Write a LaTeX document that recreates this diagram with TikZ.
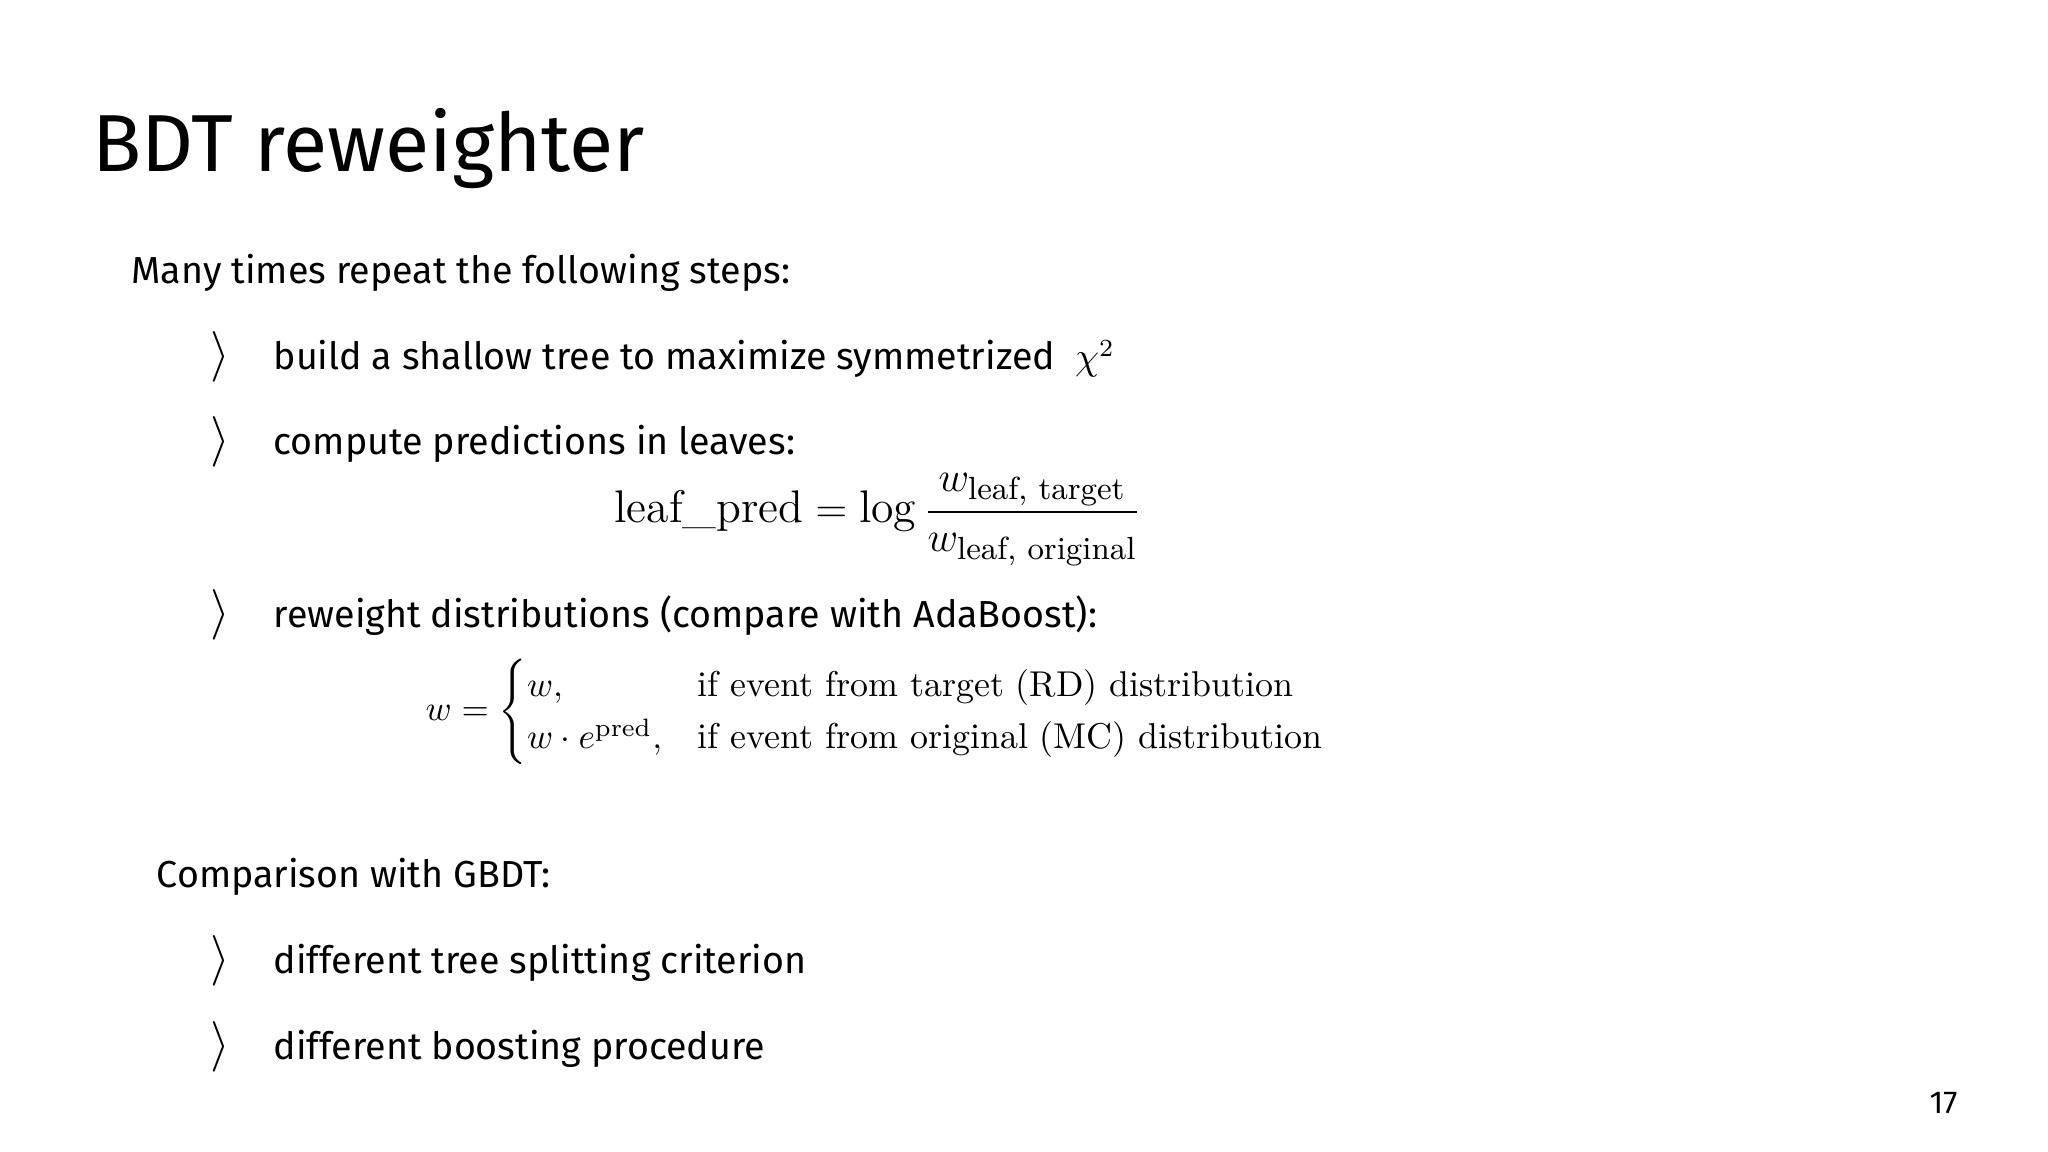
\documentclass[tikz,border=0pt]{standalone}
\usepackage{amsmath}
\usepackage{fontspec}
\setmainfont{Fira Sans}
\newfontfamily\lmr{Latin Modern Roman}
\newcommand{\lmt}[1]{\text{\lmr #1}}
\begin{document}
\begin{tikzpicture}[x=0.01cm,y=-0.01cm,
  txt/.style={anchor=base west,inner sep=0,font=\fontsize{10.7}{13}\selectfont},
  bul/.style={anchor=base west,inner sep=0,font=\fontsize{14}{15}\selectfont}]
\useasboundingbox[fill=white] (0,0) rectangle (2048,1152);
\node[anchor=base west,inner sep=0,font=\fontsize{23}{28}\selectfont] (title) at (92,172) {BDT reweighter};
\node[txt] (many) at (131,284) {Many times repeat the following steps:};
\node[bul] (b1) at (210,370) {$\rangle$};
\node[txt] (t1) at (273,370) {build a shallow tree to maximize symmetrized \ $\chi^2$};
\node[bul] (b2) at (210,455) {$\rangle$};
\node[txt] (t2) at (273,455) {compute predictions in leaves:};
\node[inner sep=0,font=\fontsize{13}{15}\selectfont] (f1) at (878,520) {$\lmt{leaf\_pred} = \lmt{log}\,\dfrac{w_{\lmt{leaf, target}}}{w_{\lmt{leaf, original}}}$};
\node[bul] (b3) at (210,627) {$\rangle$};
\node[txt] (t3) at (273,627) {reweight distributions (compare with AdaBoost):};
\node[anchor=west,inner sep=0,font=\fontsize{10.2}{12.5}\selectfont] (f2) at (425,712) {$w=\begin{cases} w, & \lmt{if event from target (RD) distribution}\\ w\cdot e^{\lmt{pred}}, & \lmt{if event from original (MC) distribution}\end{cases}$};
\node[txt] (comp) at (156,887) {Comparison with GBDT:};
\node[bul] (b4) at (210,973) {$\rangle$};
\node[txt] (t4) at (273,973) {different tree splitting criterion};
\node[bul] (b5) at (210,1059) {$\rangle$};
\node[txt] (t5) at (273,1059) {different boosting procedure};
\node[anchor=base east,inner sep=0,font=\fontsize{9}{11}\selectfont] (pg) at (1958,1113) {17};
\end{tikzpicture}
\end{document}
